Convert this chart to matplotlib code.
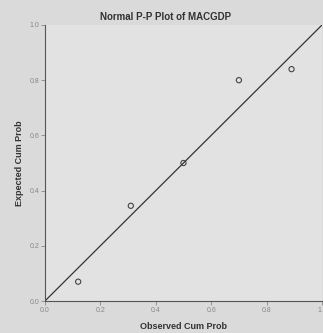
import matplotlib
matplotlib.use('Agg')
import matplotlib.pyplot as plt

plt.rcParams['font.family'] = ['Liberation Sans', 'DejaVu Sans']

observed = [0.12, 0.31, 0.50, 0.70, 0.89]
expected = [0.07, 0.345, 0.50, 0.80, 0.84]
ticks = [0.0, 0.2, 0.4, 0.6, 0.8, 1.0]
tick_labels = ['0.0', '0.2', '0.4', '0.6', '0.8', '1.0']

fig = plt.figure(figsize=(3.23, 3.33), dpi=100, facecolor='#dadada')
ax = fig.add_axes([0.139, 0.096, 0.858, 0.829])
ax.set_facecolor('#e2e2e2')

ax.plot([0, 1], [0, 1], color='#333333', lw=0.9)
ax.scatter(observed, expected, s=14, facecolors='none', edgecolors='#444444', lw=0.8, zorder=3)

ax.set_xlim(0, 1)
ax.set_ylim(0, 1)
ax.set_xticks(ticks)
ax.set_xticklabels(tick_labels)
ax.set_yticks(ticks)
ax.set_yticklabels(tick_labels)
ax.tick_params(labelsize=5, colors='#888888', length=3, width=0.6, pad=1)
for s in ['top', 'right']:
    ax.spines[s].set_visible(False)
for s in ['left', 'bottom']:
    ax.spines[s].set_color('#555555')
    ax.spines[s].set_linewidth(0.8)

fig.text(0.514, 0.95, 'Normal P-P Plot of MACGDP', fontsize=7, fontweight='bold',
         color='#333333', ha='center', va='center')
ax.set_xlabel('Observed Cum Prob', fontsize=6.5, fontweight='bold', color='#333333', labelpad=6)
ax.set_ylabel('Expected Cum Prob', fontsize=6.5, fontweight='bold', color='#333333', labelpad=4)

fig.savefig('out.png', dpi=100, facecolor=fig.get_facecolor())
